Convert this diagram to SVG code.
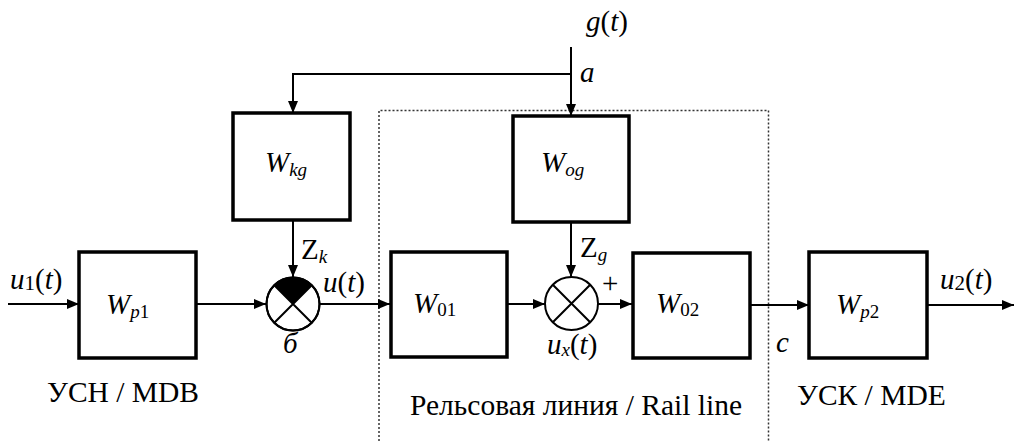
<svg xmlns="http://www.w3.org/2000/svg" width="1016" height="441" viewBox="0 0 1016 441" font-family="Liberation Serif, Times New Roman, serif">
<style>
.blk{fill:#fff;stroke:#000;stroke-width:3.5}
.ln{fill:none;stroke:#000;stroke-width:2}
.sum{fill:#fff;stroke:#000;stroke-width:2}
.t{font-family:"Liberation Serif","Times New Roman",serif;font-size:29px;fill:#000}
.i{font-style:italic}
.s{font-size:19px}
.lab{font-family:"Liberation Serif","Times New Roman",serif;font-size:29.5px;fill:#000}
</style>
<defs>
<marker id="ah" markerWidth="12" markerHeight="10" refX="12" refY="5" orient="auto" markerUnits="userSpaceOnUse">
<path d="M0,0 L12,5 L0,10 Z" fill="#000"/>
</marker>
</defs>
<rect width="1016" height="441" fill="#fff"/>
<path d="M379,445 V110.5 H768.5 V445" fill="none" stroke="#333" stroke-width="1.5" stroke-dasharray="2 2"/>
<g id="connectors">
<path class="ln" d="M8,304 H79" marker-end="url(#ah)"/>
<path class="ln" d="M196,304 H266" marker-end="url(#ah)"/>
<path class="ln" d="M320,304 H390" marker-end="url(#ah)"/>
<path class="ln" d="M507,304 H545" marker-end="url(#ah)"/>
<path class="ln" d="M598,304 H632" marker-end="url(#ah)"/>
<path class="ln" d="M750,305 H809" marker-end="url(#ah)"/>
<path class="ln" d="M927,305 H1014" marker-end="url(#ah)"/>
<path class="ln" d="M571,47 V116" marker-end="url(#ah)"/>
<path class="ln" d="M571,74 H293 V113" marker-end="url(#ah)"/>
<path class="ln" d="M293,220 V277" marker-end="url(#ah)"/>
<path class="ln" d="M571,222 V277" marker-end="url(#ah)"/>
</g>
<g id="Wp1"><rect class="blk" x="79" y="252" width="117" height="106"/>
<text class="t i" x="106" y="314">W<tspan class="s" dy="4">p</tspan><tspan class="s" font-style="normal">1</tspan></text></g>
<g id="Wkg"><rect class="blk" x="233" y="113" width="117" height="107"/>
<text class="t i" x="265" y="172">W<tspan class="s" dy="4">kg</tspan></text></g>
<g id="sum1">
<circle class="sum" cx="293" cy="304" r="26.5"/>
<path d="M293,304 L274.3,285.3 A26.5,26.5 0 0 1 311.7,285.3 Z" fill="#000"/>
<path class="ln" d="M274.3,285.3 L311.7,322.7 M311.7,285.3 L274.3,322.7"/>
<circle cx="293" cy="304" r="26.5" fill="none" stroke="#000" stroke-width="2"/>
</g>
<g id="W01"><rect class="blk" x="391" y="252" width="116" height="105"/>
<text class="t i" x="413" y="313">W<tspan class="s" dy="3" font-style="normal">01</tspan></text></g>
<g id="Wog"><rect class="blk" x="513" y="116" width="116" height="106"/>
<text class="t i" x="541" y="172">W<tspan class="s" dy="4">og</tspan></text></g>
<g id="sum2">
<circle class="sum" cx="571.5" cy="303.5" r="26.5"/>
<path class="ln" d="M552.8,284.8 L590.2,322.2 M590.2,284.8 L552.8,322.2"/>
</g>
<g id="W02"><rect class="blk" x="633" y="253" width="117" height="105"/>
<text class="t i" x="656" y="313">W<tspan class="s" dy="3" font-style="normal">02</tspan></text></g>
<g id="Wp2"><rect class="blk" x="809" y="252" width="118" height="106"/>
<text class="t i" x="836" y="314">W<tspan class="s" dy="4">p</tspan><tspan class="s" font-style="normal">2</tspan></text></g>
<g id="labels">
<text class="t" x="586" y="31"><tspan class="i">g</tspan>(<tspan class="i">t</tspan>)</text>
<text class="t i" x="580" y="82">a</text>
<text class="t" x="10" y="289"><tspan class="i">u</tspan><tspan font-size="21" dy="1">1</tspan><tspan dy="-1">(</tspan><tspan class="i">t</tspan>)</text>
<text class="t" x="301" y="259">Z<tspan class="s i" dy="4">k</tspan></text>
<text class="t" x="580" y="257">Z<tspan class="s i" dy="4">g</tspan></text>
<text class="t" x="323" y="292"><tspan class="i">u</tspan>(<tspan class="i">t</tspan>)</text>
<text class="t i" x="283" y="353">б</text>
<text class="t" x="602" y="293" font-size="26">+</text>
<text class="t" x="547" y="354"><tspan class="i">u</tspan><tspan class="s i" dy="2">x</tspan><tspan dy="-2">(</tspan><tspan class="i">t</tspan>)</text>
<text class="t i" x="776" y="352">c</text>
<text class="t" x="940" y="289"><tspan class="i">u</tspan><tspan font-size="21" dy="1">2</tspan><tspan dy="-1">(</tspan><tspan class="i">t</tspan>)</text>
<text class="lab" x="47" y="402">УСН / MDB</text>
<text class="lab" x="410" y="415">Рельсовая линия / Rail line</text>
<text class="lab" x="797" y="405">УСК / MDE</text>
</g>
</svg>
